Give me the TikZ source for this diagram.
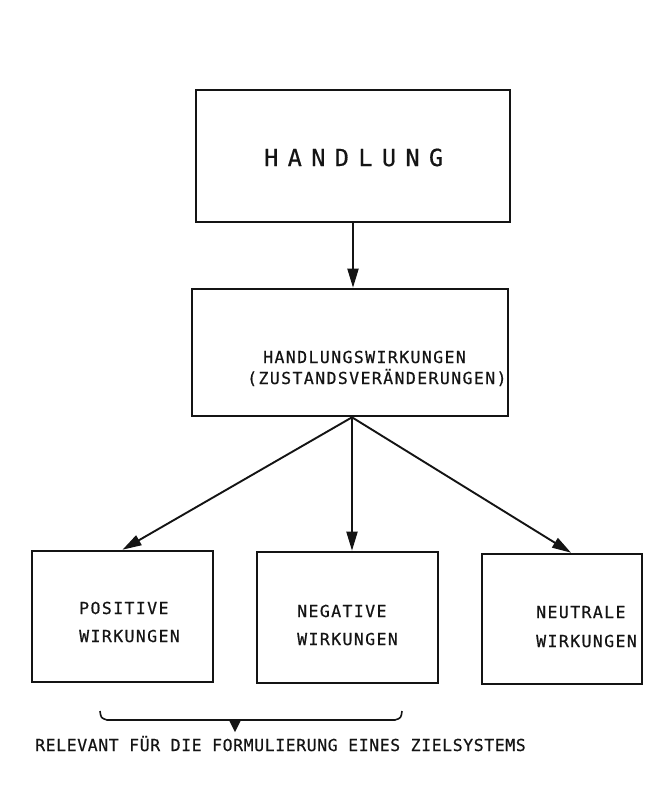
\documentclass[tikz,border=0pt]{standalone}
\usepackage{fontspec}
\usetikzlibrary{arrows.meta}
\newfontfamily\tw{DejaVu Sans Mono}[LetterSpace=8.5,FakeBold=0.6]
\newfontfamily\twrel{DejaVu Sans Mono}[LetterSpace=3.5,FakeBold=0.6]
\newfontfamily\twbig{DejaVu Sans Mono}[LetterSpace=40,FakeBold=0.6]
\definecolor{ink}{HTML}{141414}
\tikzset{
  box/.style={draw=ink, line width=2.6pt, inner sep=0pt},
  arr/.style={draw=ink, line width=1.9pt, -{Triangle[length=19pt,width=11pt]}},
  lbl/.style={anchor=base west, inner sep=0pt, text=ink, font=\tw\fontsize{16.5}{18}\selectfont},
}
\begin{document}
\begin{tikzpicture}[x=1pt,y=-1pt]
\useasboundingbox (0,0) rectangle (652,789);
% boxes
\node[box, minimum width=314pt, minimum height=132pt] (hand) at (353,156) {};
\node[box, minimum width=316pt, minimum height=127pt] (wirk) at (350,352.5) {};
\node[box, minimum width=181pt, minimum height=131pt] (pos) at (122.5,616.5) {};
\node[box, minimum width=181pt, minimum height=131pt] (neg) at (347.5,617.5) {};
\node[box, minimum width=160pt, minimum height=130pt] (neu) at (562,619) {};
% texts
\node[anchor=base west, inner sep=0pt, text=ink, font=\twbig\fontsize{23.5}{25}\selectfont] (t1) at (264,166) {HANDLUNG};
\node[lbl] (t2) at (263,363) {HANDLUNGSWIRKUNGEN};
\node[lbl] (t3) at (247,384) {(ZUSTANDSVERÄNDERUNGEN)};
\node[lbl] (p1) at (79,614) {POSITIVE};
\node[lbl] (p2) at (79,642) {WIRKUNGEN};
\node[lbl] (n1) at (297,617) {NEGATIVE};
\node[lbl] (n2) at (297,645) {WIRKUNGEN};
\node[lbl] (u1) at (536,618) {NEUTRALE};
\node[lbl] (u2) at (536,647) {WIRKUNGEN};
\node[anchor=base west, inner sep=0pt, text=ink, font=\twrel\fontsize{16.5}{18}\selectfont] (rel) at (35,751) {RELEVANT FÜR DIE FORMULIERUNG EINES ZIELSYSTEMS};
% connectors
\draw[arr] (hand.south) -- (hand.south |- wirk.north);
\coordinate (src) at ([xshift=2pt]wirk.south);
\draw[arr] (src) -- (pos.north);
\draw[arr] (src) -- ([xshift=4.5pt]neg.north);
\draw[arr] (src) -- ([xshift=9pt]neu.north);
% brace
\coordinate (bl) at (100,711);
\coordinate (br) at (402,711);
\draw[ink, line width=1.6pt, line join=round] (bl) .. controls (101,718) .. (107,720) -- (395,720) .. controls (401,718) .. (br);
\fill[ink] (229,720) -- (241,720) -- (235,732) -- cycle;
\end{tikzpicture}
\end{document}
